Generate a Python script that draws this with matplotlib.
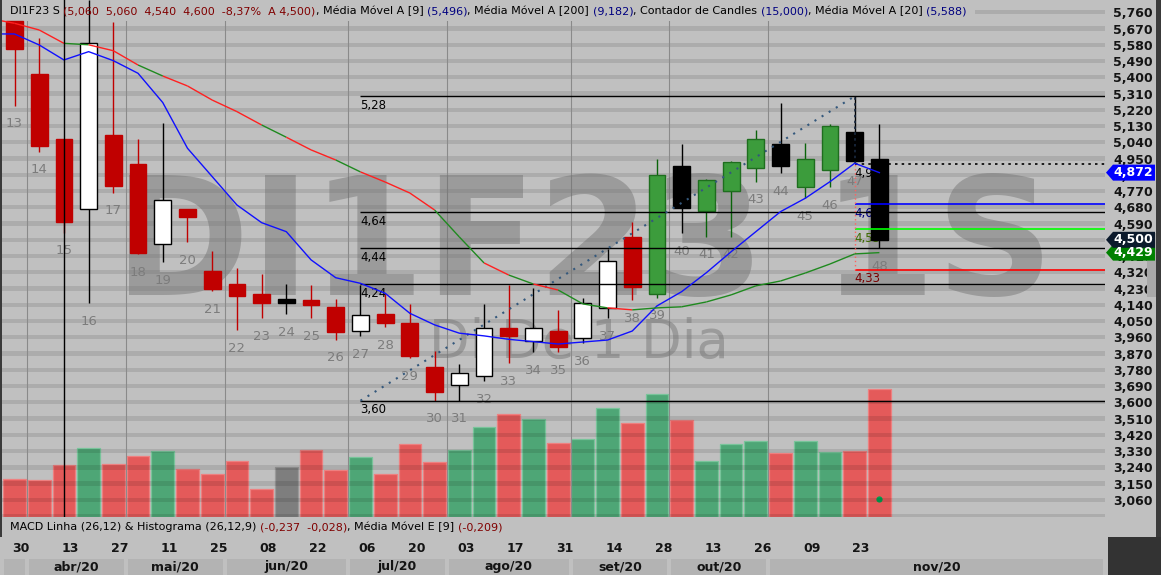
import matplotlib
matplotlib.use("Agg")
import matplotlib.pyplot as plt
from matplotlib.patches import Rectangle, Polygon
from matplotlib.collections import LineCollection
from matplotlib.transforms import IdentityTransform

plt.rcParams["font.family"] = ["DejaVu Sans"]

W, H = 1161, 575
BG = "#c0c0c0"

# weekly candles of DI1F23, numbered by the candle counter
candles = list(range(13, 49))
opens = [5.712, 5.419, 5.060, 4.673, 5.080, 4.919, 4.479, 4.673, 4.326, 4.253,
         4.198, 4.170, 4.165, 4.126, 3.993, 4.087, 4.037, 3.794, 3.697, 3.745,
         4.013, 3.941, 3.993, 3.954, 4.120, 4.514, 4.202, 4.908, 4.662, 4.773,
         4.899, 5.030, 4.790, 4.884, 5.099, 4.948]
highs = [5.712, 5.617, 5.060, 5.830, 5.706, 5.058, 5.145, 4.673, 4.437, 4.346,
         4.313, 4.253, 4.252, 4.174, 4.252, 4.202, 4.146, 3.887, 3.813, 4.146,
         4.252, 4.235, 4.113, 4.176, 4.451, 4.596, 4.947, 5.030, 4.835, 4.935,
         5.108, 5.260, 5.038, 5.141, 5.295, 5.142]
lows = [5.243, 4.988, 4.540, 4.150, 4.760, 4.420, 4.377, 4.488, 4.216, 3.998,
        4.066, 4.087, 4.066, 3.946, 3.965, 4.016, 3.844, 3.609, 3.610, 3.717,
        3.817, 3.878, 3.878, 3.926, 4.065, 4.165, 4.180, 4.538, 4.516, 4.516,
        4.821, 4.870, 4.729, 4.790, 4.925, 4.453]
closes = [5.556, 5.020, 4.600, 5.589, 4.799, 4.427, 4.723, 4.624, 4.229, 4.188,
          4.150, 4.149, 4.137, 3.989, 4.085, 4.039, 3.854, 3.656, 3.763, 4.013,
          3.965, 4.011, 3.905, 4.148, 4.385, 4.238, 4.857, 4.677, 4.830, 4.929,
          5.056, 4.910, 4.945, 5.130, 4.938, 4.500]
# candle colouring used by the platform: R red, W white, G green, K black
candle_kind = "RRRWRRWRRRRKRRWRRRWWRWRWWRGKGGGKGGKK"

volume = [380, 370, 520, 690, 530, 610, 660, 480, 430, 560, 280, 500, 670, 470,
          600, 430, 730, 550, 670, 900, 1030, 980, 740, 780, 1090, 940, 1230,
          970, 560, 730, 760, 640, 760, 650, 660, 1280]
volume_kind = "rrrgrrgrrrrnrrgrrrggrgrggrgrgggrggrr"
signal_x = [48]
signal_vol = [177]

ma_x = list(range(12, 49))
ma9 = [5.640, 5.640, 5.579, 5.496, 5.542, 5.492, 5.422, 5.260, 5.007, 4.850,
       4.693, 4.595, 4.545, 4.389, 4.290, 4.259, 4.204, 4.093, 4.029, 3.983,
       3.968, 3.949, 3.936, 3.923, 3.934, 3.945, 3.995, 4.134, 4.213, 4.318,
       4.434, 4.545, 4.656, 4.730, 4.822, 4.924, 4.872]
ma20 = [5.725, 5.699, 5.662, 5.588, 5.580, 5.547, 5.468, 5.407, 5.352, 5.274,
        5.210, 5.136, 5.068, 4.998, 4.942, 4.876, 4.820, 4.759, 4.665, 4.516,
        4.372, 4.305, 4.255, 4.222, 4.145, 4.123, 4.112, 4.123, 4.129, 4.156,
        4.195, 4.245, 4.272, 4.316, 4.366, 4.422, 4.429]

price_ticks = [5.76, 5.67, 5.58, 5.49, 5.40, 5.31, 5.22, 5.13, 5.04, 4.95, 4.86,
               4.77, 4.68, 4.59, 4.50, 4.41, 4.32, 4.23, 4.14, 4.05, 3.96, 3.87,
               3.78, 3.69, 3.60, 3.51, 3.42, 3.33, 3.24, 3.15, 3.06]
band_levels = price_ticks + [2.97]

date_candles = [13, 15, 17, 19, 21, 23, 25, 27, 29, 31, 33, 35, 37, 39, 41, 43, 45, 47]
date_labels = ["30", "13", "27", "11", "25", "08", "22", "06", "20", "03", "17",
               "31", "14", "28", "13", "26", "09", "23"]
month_labels = ["", "abr/20", "mai/20", "jun/20", "jul/20", "ago/20", "set/20",
                "out/20", "nov/20"]
month_first = [13, 14, 18, 22, 27, 31, 36, 40, 44]
month_last = [13, 17, 21, 26, 30, 35, 39, 43, 48]

# fibonacci drawings
fib1_x = [27, 47]
fib1_levels = [5.295, 4.652, 4.452, 4.253, 3.609]
fib1_labels = ["5,28", "4,64", "4,44", "4,24", "3,60"]
fib2_x = 47
fib2_levels = [4.920, 4.6965, 4.5585, 4.335]
fib2_labels = ["4,92", "4,69", "4,55", "4,33"]

cursor_candle = 15
last_values = [4.872, 4.429, 4.500]
last_colors = ["#0000ff", "#008000", "#0c1a2c"]

header_parts = [
    ("DI1F23 S ", "black"),
    ("(5,060  5,060  4,540  4,600  -8,37%  A 4,500)", "#800000"),
    (", Média Móvel A [9] ", "black"), ("(5,496)", "#000080"),
    (", Média Móvel A [200] ", "black"), ("(9,182)", "#000080"),
    (", Contador de Candles ", "black"), ("(15,000)", "#000080"),
    (", Média Móvel A [20] ", "black"), ("(5,588)", "#000080"),
]
macd_parts = [
    ("MACD Linha (26,12) & Histograma (26,12,9) ", "black"),
    ("(-0,237  -0,028)", "#800000"),
    (", Média Móvel E [9] ", "black"), ("(-0,209)", "#800000"),
]

XL = (12.413, 57.13)
YL = (2.965, 5.828)

KIND_STYLE = {
    "R": ("#c00000", "#c00000", "#c00000"),
    "W": ("white", "black", "black"),
    "G": ("#3c9c3c", "#1e6e1e", "#0a640a"),
    "K": ("black", "black", "black"),
}
VOL_STYLE = {
    "r": ("#e45a5a", "#ee8080"),
    "g": ("#4ea676", "#78c49a"),
    "n": ("#7e7e7e", "#9a9a9a"),
}


def px_rect(x0, y0, x1, y1, color, z=1):
    # rectangle in image pixels (origin top-left)
    r = Rectangle((x0, H - y1), x1 - x0, y1 - y0, transform=IdentityTransform(),
                  facecolor=color, edgecolor="none", zorder=z)
    fig.add_artist(r)


def draw_parts(x, y, parts, size):
    renderer = fig.canvas.get_renderer()
    for s, c in parts:
        t = fig.text(x, H - y, s, color=c, fontsize=size, va="center", ha="left",
                     transform=IdentityTransform(), zorder=6)
        x = t.get_window_extent(renderer).x1


fig = plt.figure(figsize=(W / 100, H / 100), dpi=100, facecolor=BG)
rect = [0, 58 / H, 1105 / W, 517 / H]
vax = fig.add_axes(rect)
vax.set_facecolor(BG)
ax = fig.add_axes(rect, sharex=vax)
ax.patch.set_visible(False)

for a in (vax, ax):
    for sp in a.spines.values():
        sp.set_visible(False)
    a.tick_params(bottom=False, labelbottom=False, left=False, labelleft=False)
vax.set_yticks([])
vax.set_xlim(*XL)
vax.set_ylim(0, 5170)
ax.set_ylim(*YL)

# volume
vcols = [VOL_STYLE[k][0] for k in volume_kind]
vedge = [VOL_STYLE[k][1] for k in volume_kind]
vax.bar(candles, volume, width=0.92, color=vcols, edgecolor=vedge, linewidth=0.9)
vax.plot(signal_x, signal_vol, "o", color="#00a050", ms=4.5, mec="none")

# background bands and month separators
for lv in band_levels:
    ax.axhspan(lv - 0.012, lv + 0.012, color="black", alpha=0.1, lw=0, zorder=0.2)
for m in month_first[1:]:
    ax.axvline(m - 0.5, color="#8a8a8a", lw=0.8, zorder=0.3)

# watermarks
ax.text(0.528, 0.429, "DI1F23 1S", transform=ax.transAxes, ha="center",
        va="baseline", fontsize=118, fontweight="bold", color="#6e6e6e",
        alpha=0.45, zorder=0.5)
ax.text(0.524, 0.3075, "Di De 1 Dia", transform=ax.transAxes, ha="center",
        va="baseline", fontsize=38, color="#6e6e6e", alpha=0.45, zorder=0.5)

# header backing
ax.add_patch(Rectangle((0, 1 - 21 / 517), 975 / 1105, 21 / 517, transform=ax.transAxes,
                       facecolor=BG, edgecolor="none", zorder=0.6))

# candles
wick_cols = [KIND_STYLE[k][2] for k in candle_kind]
ax.vlines(candles, lows, highs, colors=wick_cols, lw=1.0, zorder=2.9)
bottoms = [min(o, c) for o, c in zip(opens, closes)]
heights = [max(abs(c - o), 0.02) for o, c in zip(opens, closes)]
ax.bar(candles, heights, bottom=bottoms, width=0.68,
       color=[KIND_STYLE[k][0] for k in candle_kind],
       edgecolor=[KIND_STYLE[k][1] for k in candle_kind], linewidth=1.0, zorder=3)

for n, lo in zip(candles, lows):
    ax.annotate(str(n), (n, lo), xytext=(0, -13), textcoords="offset points",
                ha="center", va="center", fontsize=9.5, color="#7c7c7c", zorder=2.8)

# moving averages
ax.plot(ma_x, ma9, color="#1010ff", lw=1.0, zorder=4)
segs = [[(ma_x[i], ma20[i]), (ma_x[i + 1], ma20[i + 1])] for i in range(len(ma_x) - 1)]
seg_cols = ["#ff2020" if k == "R" else "#1f8a1f" for k in candle_kind]
ax.add_collection(LineCollection(segs, colors=seg_cols, linewidths=1.0, zorder=4))

# fibonacci 1 (low to high)
for lv, lab in zip(fib1_levels, fib1_labels):
    ax.hlines(lv, fib1_x[0], XL[1], color="black", lw=1.0, zorder=3.5)
    ax.annotate(lab, (fib1_x[0], lv), xytext=(0, -2), textcoords="offset points",
                ha="left", va="top", fontsize=8.5, color="black", zorder=2.5)
ax.plot(fib1_x, [fib1_levels[-1], fib1_levels[0]], color="#34587c", lw=1.5,
        ls=(0, (1, 3)), zorder=3.6)
ax.vlines(fib1_x[1], fib2_levels[0], fib1_levels[0], color="#1a2a40", lw=1.2,
          ls=(0, (1.5, 2)), zorder=3.6)

# fibonacci 2 (retracement of the last swing)
fib2_styles = [("black", (0, (1.5, 2.5)), "black"), ("#0000ff", "-", "#000080"),
               ("#00ff00", "-", "#3d6a00"), ("#ff0000", "-", "#7a0000")]
for lv, lab, (lc, ls, tc) in zip(fib2_levels, fib2_labels, fib2_styles):
    ax.hlines(lv, fib2_x, XL[1], color=lc, lw=1.2, ls=ls, zorder=3.5)
    ax.annotate(lab, (fib2_x, lv), xytext=(0, -2), textcoords="offset points",
                ha="left", va="top", fontsize=8.5, color=tc, zorder=2.5)
ax.vlines(fib2_x, fib2_levels[-1], fib2_levels[0], color="#ff6060", lw=1.0,
          ls=(0, (1, 2)), zorder=3.6)

# cursor line
ax.axvline(cursor_candle, color="black", lw=1.0, zorder=5)

# price axis
ax.yaxis.tick_right()
ax.set_yticks(price_ticks)
ax.set_yticklabels([f"{t:.3f}".replace(".", ",") for t in price_ticks])
ax.tick_params(axis="y", right=False, labelright=True, length=0, pad=5.8,
               labelsize=9, labelcolor="#141414")
for t in ax.get_yticklabels():
    t.set_fontweight("bold")

# date axis
dax = fig.add_axes([0, 0, 1105 / W, 38 / H])
dax.set_xlim(*XL)
dax.set_ylim(38, 0)
dax.axis("off")
for c, lab in zip(date_candles, date_labels):
    dax.text(c + 0.26, 11, lab, ha="center", va="center", fontsize=9,
             fontweight="bold", color="#141414")
gap = 2 / 24.71
for i, (lab, f, l) in enumerate(zip(month_labels, month_first, month_last)):
    left = f - 0.5 + gap
    right = XL[1] - gap if i == len(month_labels) - 1 else l + 0.5 - gap
    dax.add_patch(Rectangle((left, 22), right - left, 15.5, facecolor="#b3b3b3",
                            edgecolor="none"))
    dax.text((left + right) / 2, 29.5, lab, ha="center", va="center", fontsize=9,
             fontweight="bold", color="#141414")

# frame pieces of the platform window
px_rect(0, 0, 2, 537, "#3a3a3a", z=5)
px_rect(1156, 0, 1161, 537, "#3a3a3a", z=5)
px_rect(1108, 537, 1161, 575, "#333333", z=5)
px_rect(1147, 233, 1156, 297, "#a9a9a9", z=5)

# last value tags
for v, c in zip(last_values, last_colors):
    yd = ax.transData.transform((30, v))[1]
    pts = [(1106, yd), (1113, yd + 8), (1155, yd + 8), (1155, yd - 8), (1113, yd - 8)]
    fig.add_artist(Polygon(pts, closed=True, transform=IdentityTransform(),
                           facecolor=c, edgecolor="none", zorder=7))
    fig.text(1153, yd, f"{v:.3f}".replace(".", ","), transform=IdentityTransform(),
             ha="right", va="center", fontsize=9, fontweight="bold", color="white",
             zorder=8)

draw_parts(10, 11, header_parts, 8.0)
draw_parts(10, 527, macd_parts, 8.0)

fig.savefig("out.png", dpi=100, facecolor=BG)
